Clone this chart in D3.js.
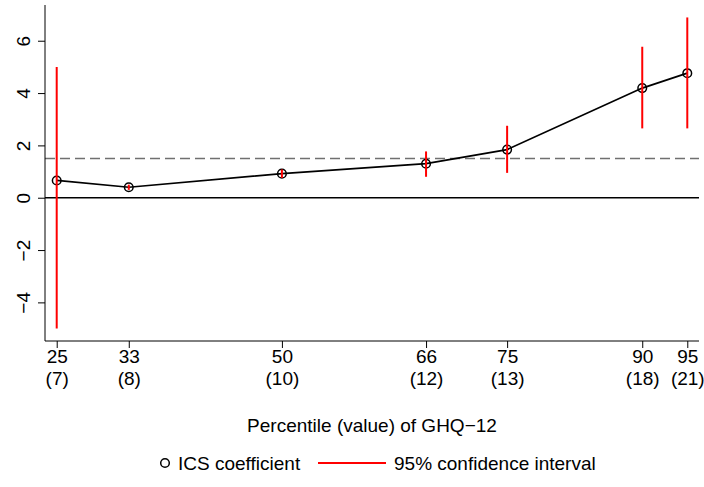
<!DOCTYPE html>
<html>
<head>
<meta charset="utf-8">
<script src="https://cdn.jsdelivr.net/npm/d3@7"></script>
<style>
  body { margin: 0; background: #fff; }
  text { font-family: "Liberation Sans", Arial, Helvetica, sans-serif; }
</style>
</head>
<body>
<div id="chart"></div>
<script>
// values
const percentiles = [25, 33, 50, 66, 75, 90, 95]
const ghqValues = ["(7)", "(8)", "(10)", "(12)", "(13)", "(18)", "(21)"]
const coef = [0.66, 0.40, 0.92, 1.30, 1.84, 4.19, 4.76]
const ciLow = [-5.0, 0.30, 0.76, 0.80, 0.95, 2.65, 2.65]
const ciHigh = [5.0, 0.50, 1.08, 1.77, 2.75, 5.77, 6.89]
const yTicks = [-4, -2, 0, 2, 4, 6]
const refLine = 1.5
const xTitle = "Percentile (value) of GHQ\u221212"
const legendLabels = ["ICS coefficient", "95% confidence interval"]

const W = 704, H = 487
const margin = { top: 5, right: 5, bottom: 146, left: 45 }
const fs = 19

const svg = d3.select("#chart").append("svg")
    .attr("width", W)
    .attr("height", H)

const data = percentiles.map(function (p, i) {
    return { p: p, v: ghqValues[i], c: coef[i], lo: ciLow[i], hi: ciHigh[i] }
})

// x range a bit wider than the first/last percentile
const x = d3.scaleLinear()
    .domain([23.7, 96.3])
    .range([margin.left, W - margin.right])

// R style: data range stretched by 4%
const yMin = d3.min(ciLow), yMax = d3.max(ciHigh)
const yPad = (yMax - yMin) * 0.04
const y = d3.scaleLinear()
    .domain([yMin - yPad, yMax + yPad])
    .range([H - margin.bottom, margin.top])

// zero line and reference line
svg.append("line")
    .attr("x1", x.range()[0]).attr("x2", x.range()[1])
    .attr("y1", y(0)).attr("y2", y(0))
    .attr("stroke", "#000").attr("stroke-width", 1.6)

svg.append("line")
    .attr("x1", x.range()[0]).attr("x2", x.range()[1])
    .attr("y1", y(refLine)).attr("y2", y(refLine))
    .attr("stroke", "#707070").attr("stroke-width", 1.6)
    .attr("stroke-dasharray", "10,5")

// coefficient line
svg.append("path")
    .datum(data)
    .attr("fill", "none")
    .attr("stroke", "#000")
    .attr("stroke-width", 1.7)
    .attr("d", d3.line().x(function (d) { return x(d.p) }).y(function (d) { return y(d.c) }))

svg.selectAll(".pt")
    .data(data)
    .enter().append("circle")
    .attr("class", "pt")
    .attr("cx", function (d) { return x(d.p) })
    .attr("cy", function (d) { return y(d.c) })
    .attr("r", 4.3)
    .attr("fill", "none")
    .attr("stroke", "#000")
    .attr("stroke-width", 1.5)

// confidence intervals
svg.selectAll(".ci")
    .data(data)
    .enter().append("line")
    .attr("class", "ci")
    .attr("x1", function (d) { return x(d.p) })
    .attr("x2", function (d) { return x(d.p) })
    .attr("y1", function (d) { return y(d.lo) })
    .attr("y2", function (d) { return y(d.hi) })
    .attr("stroke", "#ff0000")
    .attr("stroke-width", 2)

// L shaped box
svg.append("path")
    .attr("d", "M" + x.range()[0] + "," + y.range()[1] + "V" + y.range()[0] + "H" + x.range()[1])
    .attr("fill", "none").attr("stroke", "#000").attr("stroke-width", 1)

// y axis
const yAxis = svg.append("g")
    .attr("transform", "translate(" + margin.left + ",0)")
    .call(d3.axisLeft(y).tickValues(yTicks).tickSize(7).tickPadding(0))
yAxis.select(".domain").remove()
yAxis.selectAll("line").attr("stroke", "#000")
yAxis.selectAll("text")
    .attr("font-size", fs)
    .attr("fill", "#000")
    .attr("x", 0).attr("dy", null)
    .attr("text-anchor", "middle")
    .attr("transform", "translate(-15.5,0) rotate(-90)")
    .attr("y", 0)

// x axis with two-line labels
const xAxis = svg.append("g")
    .attr("transform", "translate(0," + y.range()[0] + ")")
    .call(d3.axisBottom(x).tickValues(percentiles).tickSize(7).tickFormat(""))
xAxis.select(".domain").remove()
xAxis.selectAll("line").attr("stroke", "#000")
xAxis.selectAll(".tick").each(function (p, i) {
    const t = d3.select(this)
    t.select("text").remove()
    t.append("text").attr("y", 22).attr("text-anchor", "middle")
        .attr("font-size", fs).attr("fill", "#000").text(p)
    t.append("text").attr("y", 44).attr("text-anchor", "middle")
        .attr("font-size", fs).attr("fill", "#000").text(ghqValues[i])
})

svg.append("text")
    .attr("x", (x.range()[0] + x.range()[1]) / 2)
    .attr("y", 432)
    .attr("text-anchor", "middle")
    .attr("font-size", fs)
    .text(xTitle)

// legend
const lg = svg.append("g").attr("transform", "translate(0,463)")
lg.append("circle").attr("cx", 165).attr("cy", 0).attr("r", 4.3)
    .attr("fill", "none").attr("stroke", "#000").attr("stroke-width", 1.5)
lg.append("text").attr("x", 178).attr("y", 7).attr("font-size", fs).text(legendLabels[0])
lg.append("line").attr("x1", 318).attr("x2", 386).attr("y1", 0).attr("y2", 0)
    .attr("stroke", "#ff0000").attr("stroke-width", 2)
lg.append("text").attr("x", 394).attr("y", 7).attr("font-size", fs).text(legendLabels[1])
</script>
</body>
</html>
